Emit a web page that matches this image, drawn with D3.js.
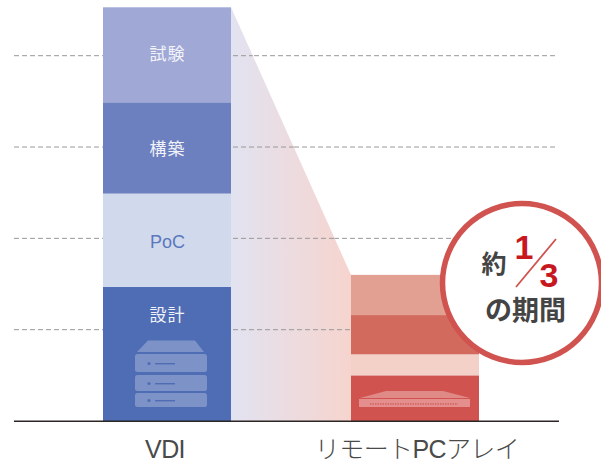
<!DOCTYPE html>
<html><head><meta charset="utf-8">
<script src="https://cdn.jsdelivr.net/npm/d3@7/dist/d3.min.js"></script>
<style>html,body{margin:0;padding:0;background:#fff}svg{display:block}text{font-family:"Liberation Sans","Noto Sans CJK JP",sans-serif}</style>
</head><body><svg id="c" width="601" height="466"></svg>
<script>
const categories = ["VDI", "リモートPCアレイ"];
const phases = ["設計", "PoC", "構築", "試験"];
const vdiValues = [1.47, 1.02, 1.0, 1.04];
const remoteValues = [0.5, 0.23, 0.43, 0.44];
const vdiColors = ["#4f6db5", "#d1d9ec", "#6c80bf", "#a0a8d6"];
const remoteColors = ["#d05350", "#f3d0c8", "#d26a5e", "#e2a093"];
const gridTicks = [1, 2, 3, 4];

const svg = d3.select("#c");
const y = d3.scaleLinear().domain([0, 4.53]).range([421, 7.3]);
const x = d3.scaleBand().domain(categories).range([103, 479]).paddingInner(120 / 248).paddingOuter(0);
const stack = vals => { let s = 0; return vals.map(v => { const d = { y0: s, y1: s + v }; s += v; return d; }); };
const vdi = stack(vdiValues), rem = stack(remoteValues);

const defs = svg.append("defs");
const g = defs.append("linearGradient").attr("id", "wedge").attr("x1", 0).attr("x2", 1).attr("y1", 0).attr("y2", 0);
g.append("stop").attr("offset", 0).attr("stop-color", "#e2e3f1");
g.append("stop").attr("offset", 1).attr("stop-color", "#f6d4ce");

const gridColor = "#999999";
svg.append("g").selectAll("line").data(gridTicks).join("line")
  .attr("x1", 14).attr("x2", 555)
  .attr("y1", d => y(d)).attr("y2", d => y(d))
  .attr("stroke", gridColor).attr("stroke-width", 1).attr("stroke-dasharray", "5 3");

const xv = x("VDI") + x.bandwidth(), xr = x("リモートPCアレイ");
const topV = vdi[3].y1, topR = rem[3].y1;
const wedgeG = svg.append("g");
wedgeG.append("path")
  .attr("d", d3.line()([[xv, y(topV)], [xr, y(topR)], [xr, y(0)], [xv, y(0)]]) + "Z")
  .attr("fill", "url(#wedge)");
wedgeG.selectAll("line").data(gridTicks).join("line")
  .attr("x1", xv + 2)
  .attr("x2", d => xv + Math.max(0, (y(d) - y(topV)) / (y(topR) - y(topV))) * (xr - xv))
  .attr("y1", d => y(d)).attr("y2", d => y(d))
  .attr("stroke", gridColor).attr("stroke-dasharray", "5 3");

const drawBars = (data, cat, colors) => svg.append("g").selectAll("rect").data(data).join("rect")
  .attr("x", x(cat)).attr("width", x.bandwidth())
  .attr("y", d => y(d.y1)).attr("height", d => y(d.y0) - y(d.y1))
  .attr("fill", (d, i) => colors[i]);
drawBars(vdi, "VDI", vdiColors);
drawBars(rem, "リモートPCアレイ", remoteColors);

const labelY = [321, 248, 155, 60];
svg.append("g").selectAll("text").data(vdi).join("text")
  .attr("x", x("VDI") + x.bandwidth() / 2 + 0.5)
  .attr("y", (d, i) => labelY[i])
  .attr("text-anchor", "middle").attr("font-size", (d, i) => i === 1 ? 18 : 17)
  .attr("letter-spacing", (d, i) => i === 1 ? 0 : 1)
  .attr("fill", (d, i) => i === 1 ? "#5b78bd" : "#f2f3f9")
  .text((d, i) => phases[i]);

const icon = svg.append("g").attr("transform", `translate(${x("VDI")},0)`).attr("fill", "#7d93c7");
icon.append("path").attr("d", "M45 340.5H92L101 352H34Z");
[[354, 18], [375, 16], [393, 14]].forEach(([t, h]) => {
  icon.append("rect").attr("x", 32).attr("y", t).attr("width", 72).attr("height", h).attr("rx", 2.5);
  icon.append("circle").attr("cx", 46).attr("cy", t + h / 2 + 0.5).attr("r", 1.6).attr("fill", "#4f6db5");
  icon.append("rect").attr("x", 52).attr("y", t + h / 2).attr("width", 20).attr("height", 1.4).attr("fill", "#4f6db5");
});

const app = svg.append("g").attr("transform", `translate(${xr},0)`);
app.append("path").attr("d", "M9 398L35 391H92L119 398Z").attr("fill", "#e08a87");
app.append("rect").attr("x", 8).attr("y", 399).attr("width", 111).attr("height", 8).attr("fill", "#e48f8d");
app.append("line").attr("x1", 19).attr("x2", 107).attr("y1", 404).attr("y2", 404).attr("stroke", "#c94a48").attr("stroke-width", 1).attr("stroke-dasharray", "1.5 1");

svg.append("line").attr("x1", 14).attr("x2", 559).attr("y1", 421.3).attr("y2", 421.3).attr("stroke", "#2b2523").attr("stroke-width", 1.6);

const axis = d3.axisBottom(x).tickSize(0).tickPadding(0);
const ax = svg.append("g").attr("transform", "translate(0,449)").call(axis);
ax.select(".domain").remove();
ax.selectAll("text").attr("y", 0).attr("dy", "0.36em").attr("dx", (d, i) => i === 0 ? -2 : 2)
  .attr("fill", "#4a4a4a").attr("font-size", 25)
  .style("font-family", '"Liberation Sans","Noto Sans CJK JP",sans-serif').attr("font-weight", 300).attr("letter-spacing", "-0.6");

const cg = svg.append("g");
cg.append("circle").attr("cx", 522).attr("cy", 283).attr("r", 79.5).attr("fill", "#fff").attr("stroke", "#d05350").attr("stroke-width", 5.5);
const jp = '"Noto Sans CJK JP",sans-serif';
cg.append("text").attr("x", 494).attr("y", 273).attr("text-anchor", "middle").attr("font-size", 25).attr("font-weight", 700).attr("fill", "#444").style("font-family", jp).text("約");
cg.append("text").attr("x", 524).attr("y", 259).attr("text-anchor", "middle").attr("font-size", 34).attr("font-weight", 700).attr("fill", "#c8181f").text("1");
cg.append("text").attr("x", 549).attr("y", 287).attr("text-anchor", "middle").attr("font-size", 34).attr("font-weight", 700).attr("fill", "#c8181f").text("3");
cg.append("line").attr("x1", 516).attr("y1", 287).attr("x2", 556).attr("y2", 239).attr("stroke", "#d05350").attr("stroke-width", 1.8);
cg.append("text").attr("x", 525.5).attr("y", 320).attr("text-anchor", "middle").attr("font-size", 27).attr("font-weight", 700).attr("fill", "#444").style("font-family", jp).text("の期間");
</script></body></html>
